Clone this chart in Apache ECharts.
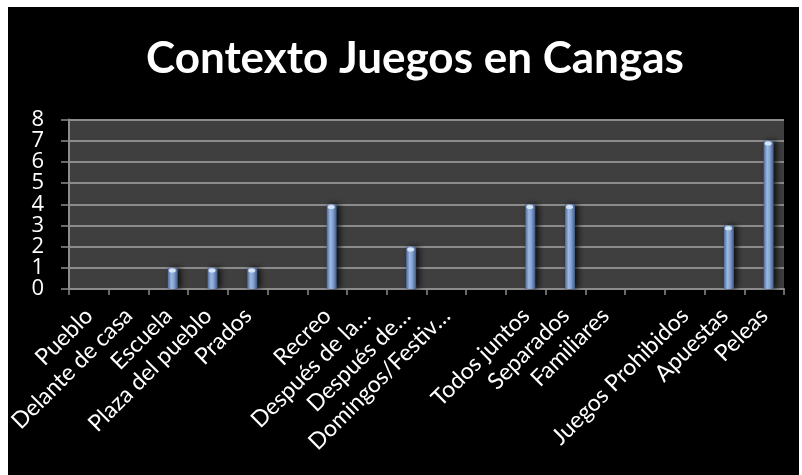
<!DOCTYPE html>
<html>
<head>
<meta charset="utf-8">
<style>
  html, body { margin: 0; padding: 0; background: #ffffff; width: 802px; height: 475px; overflow: hidden; }
  #chart { position: absolute; left: 8px; top: 7px; width: 791px; height: 468px; background: #000000; }
</style>
<script src="https://cdn.jsdelivr.net/npm/echarts@6/dist/echarts.min.js"></script>
</head>
<body>
<div id="chart"></div>
<script>
// Places and circumstances where the games took place, with counts
const categories = [
  'Pueblo', 'Delante de casa', 'Escuela', 'Plaza del pueblo', 'Prados', '',
  'Recreo', 'Después de la…', 'Después de…', 'Domingos/Festiv…', '',
  'Todos juntos', 'Separados', 'Familiares', '',
  'Juegos Prohibidos', 'Apuestas', 'Peleas'
];
const values = [0, 0, 1, 1, 1, 0, 4, 0, 2, 0, 0, 4, 4, 0, 0, 0, 3, 7];
const yTicks = { min: 0, max: 8, interval: 1 };

const chart = echarts.init(document.getElementById('chart'), null, { renderer: 'canvas' });

const barFill = new echarts.graphic.LinearGradient(0, 0, 1, 0, [
  { offset: 0, color: '#4d6a98' },
  { offset: 0.35, color: '#9cb7e2' },
  { offset: 0.6, color: '#86a3d2' },
  { offset: 1, color: '#3f5a86' }
]);

const capData = values.map(v => (v > 0 ? v : '-'));

// The tick numbers sit close together, so even and odd ones are
// written by two overlaid value axes to keep every number visible.
const yLabelStyle = {
  margin: 25,
  showMinLabel: true,
  showMaxLabel: true,
  hideOverlap: false,
  color: '#ffffff',
  fontFamily: 'Open Sans',
  fontSize: 22
};

function valueAxis(parity, primary) {
  return {
    type: 'value',
    position: 'left',
    min: yTicks.min,
    max: yTicks.max,
    interval: yTicks.interval,
    axisLine: { show: primary, lineStyle: { color: '#8c8c8c', width: 2 } },
    axisTick: { show: primary, length: 8, lineStyle: { color: '#8c8c8c', width: 1.5 } },
    axisLabel: Object.assign({}, yLabelStyle, {
      formatter: v => (v % 2 === parity ? String(v) : '')
    }),
    splitLine: { show: primary, lineStyle: { color: '#8c8c8c', width: 2 } }
  };
}

chart.setOption({
  backgroundColor: '#000000',
  animation: false,
  title: {
    text: 'Contexto Juegos en Cangas',
    left: 133,
    top: 25,
    textStyle: {
      color: '#ffffff',
      fontFamily: 'Lato',
      fontWeight: 'bold',
      fontSize: 44
    }
  },
  grid: {
    left: 61,
    right: 15,
    top: 112.5,
    bottom: 186,
    outerBoundsMode: 'none',
    containLabel: false,
    show: true,
    backgroundColor: '#3f3f3f',
    borderWidth: 0
  },
  xAxis: {
    type: 'category',
    data: categories,
    boundaryGap: true,
    axisLine: { show: true, lineStyle: { color: '#8c8c8c', width: 2 } },
    axisTick: { show: true, alignWithLabel: false, length: 6, lineStyle: { color: '#8c8c8c', width: 1.5 } },
    axisLabel: {
      interval: 0,
      rotate: 45,
      margin: 23,
      hideOverlap: false,
      color: '#ffffff',
      fontFamily: 'Lato',
      fontSize: 23
    },
    splitLine: { show: false }
  },
  yAxis: [valueAxis(0, true), valueAxis(1, false)],
  series: [
    {
      type: 'pictorialBar',
      yAxisIndex: 0,
      data: values,
      symbol: 'rect',
      symbolSize: [10, '100%'],
      symbolOffset: [4.5, 0],
      itemStyle: {
        color: barFill,
        shadowColor: 'rgba(0,0,0,0.8)',
        shadowBlur: 6,
        shadowOffsetX: 3
      },
      z: 3
    },
    {
      type: 'pictorialBar',
      yAxisIndex: 0,
      data: capData,
      symbol: 'circle',
      symbolSize: [7, 4],
      symbolPosition: 'end',
      symbolOffset: [4, '20%'],
      itemStyle: { color: '#d6e4f7' },
      z: 4
    }
  ]
});
</script>
</body>
</html>
